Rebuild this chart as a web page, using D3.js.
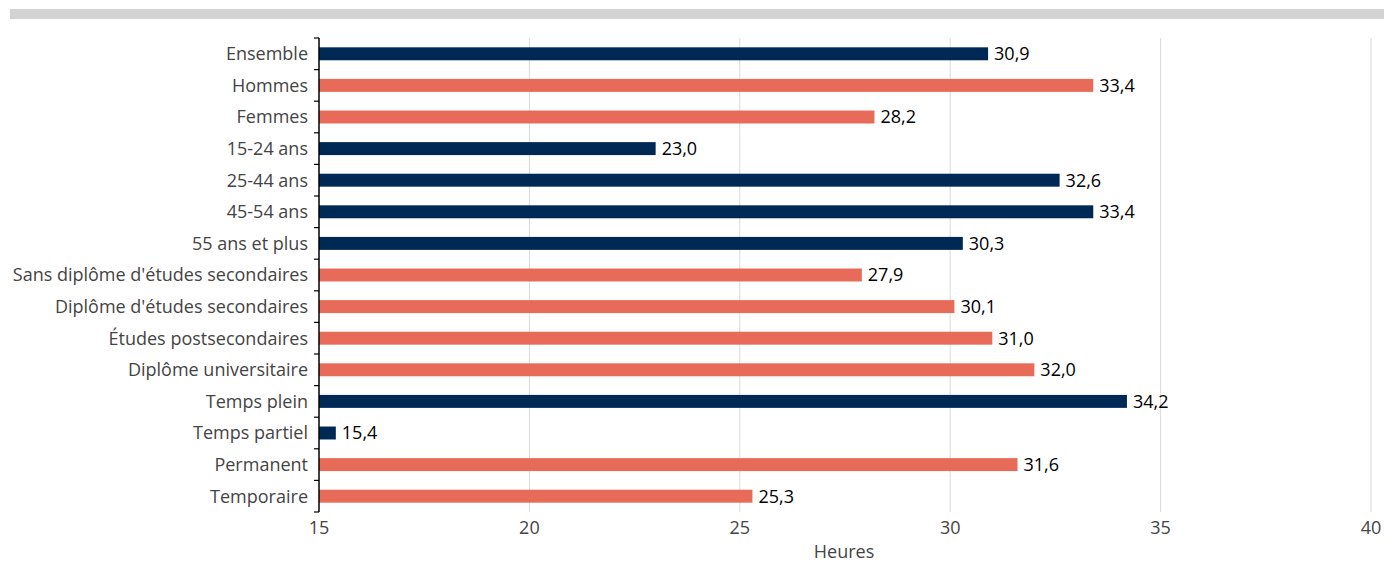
<!DOCTYPE html>
<html><head><meta charset="utf-8">
<script src="https://cdn.jsdelivr.net/npm/d3@7"></script>
<style>body{margin:0;background:#fff;}svg{display:block;font-family:"Open Sans",sans-serif;}</style>
</head><body><svg id="c" width="1384" height="563"></svg>
<script>
const categories = ["Ensemble","Hommes","Femmes","15-24 ans","25-44 ans","45-54 ans","55 ans et plus","Sans diplôme d'études secondaires","Diplôme d'études secondaires","Études postsecondaires","Diplôme universitaire","Temps plein","Temps partiel","Permanent","Temporaire"];
const values = [30.9,33.4,28.2,23.0,32.6,33.4,30.3,27.9,30.1,31.0,32.0,34.2,15.4,31.6,25.3];
const groups = ["a","b","b","a","a","a","a","b","b","b","b","a","a","b","b"];
const xTicks = [15,20,25,30,35,40];
const groupColors = {a:"#002855", b:"#E86A58"};
const xTitle = "Heures";

const svg = d3.select("#c");
svg.append("rect").attr("x",10).attr("y",9).attr("width",1374).attr("height",10).attr("fill","#d3d3d3");

const L=319, R=1371, T=38, B=512;
const FS=18;
const x = d3.scaleLinear().domain([15,40]).range([L,R]);
const y = d3.scaleBand().domain(categories).range([T,B]).paddingInner(0.59).paddingOuter(0.295);
const yb = d3.scaleBand().domain(categories).range([T,B]);

// gridlines
svg.append("g").selectAll("line").data(xTicks.slice(1)).join("line")
  .attr("x1",d=>x(d)).attr("x2",d=>x(d)).attr("y1",T).attr("y2",B)
  .attr("stroke","#d9d9d9").attr("stroke-width",1);

// x tick labels
svg.append("g").selectAll("text").data(xTicks).join("text")
  .attr("x",d=>x(d)).attr("y",534).attr("text-anchor","middle")
  .attr("font-size",FS).attr("fill","#444").text(d=>d);
svg.append("text").attr("x",844).attr("y",558).attr("text-anchor","middle")
  .attr("font-size",FS).attr("fill","#444").text(xTitle);

// bars
svg.append("g").selectAll("rect").data(categories).join("rect")
  .attr("x",x(15)).attr("y",d=>y(d)).attr("height",y.bandwidth())
  .attr("width",(d,i)=>x(values[i])-x(15)).attr("fill",(d,i)=>groupColors[groups[i]]);

// value labels
svg.append("g").selectAll("text").data(categories).join("text")
  .attr("x",(d,i)=>x(values[i])+6).attr("y",d=>y(d)+y.bandwidth()/2).attr("dy","0.35em")
  .attr("font-size",FS).attr("fill","#000").text((d,i)=>values[i].toFixed(1).replace(".",","));

// y axis
const yAxisG = svg.append("g");
yAxisG.append("line").attr("x1",L).attr("x2",L).attr("y1",T).attr("y2",B).attr("stroke","#000").attr("stroke-width",1.5);
const bounds = categories.map(c=>yb(c)).concat([B]);
yAxisG.selectAll("line.t").data(bounds).join("line").attr("class","t")
  .attr("x1",L-5).attr("x2",L).attr("y1",d=>d).attr("y2",d=>d).attr("stroke","#000").attr("stroke-width",1.2);
yAxisG.selectAll("text").data(categories).join("text")
  .attr("x",L-11).attr("y",d=>yb(d)+yb.bandwidth()/2).attr("dy","0.35em").attr("text-anchor","end")
  .attr("font-size",FS).attr("fill","#444").text(d=>d);
</script></body></html>
